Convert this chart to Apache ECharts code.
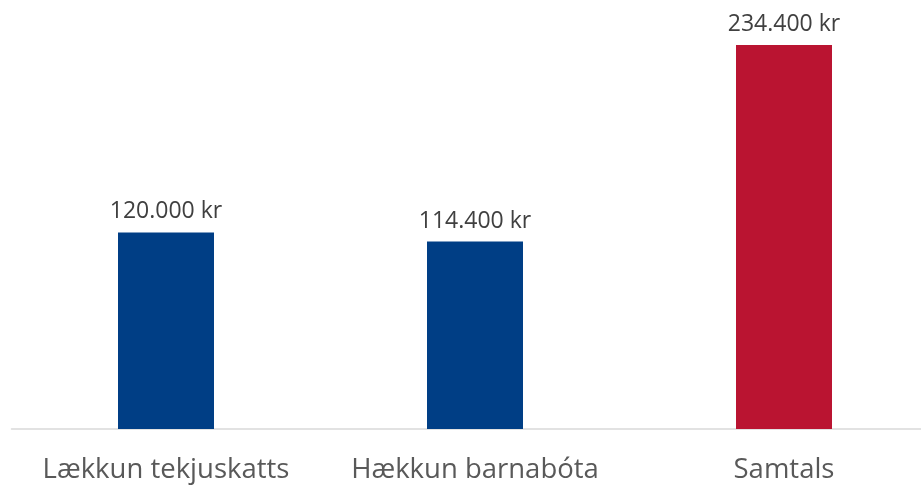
<!DOCTYPE html>
<html>
<head>
<meta charset="utf-8">
<script src="https://cdn.jsdelivr.net/npm/echarts@6/dist/echarts.min.js"></script>
<style>
  html, body { margin: 0; padding: 0; background: #fff; }
  #chart { width: 921px; height: 485px; }
</style>
</head>
<body>
<div id="chart"></div>
<script>
var categories = ['Lækkun tekjuskatts', 'Hækkun barnabóta', 'Samtals'];
var values = [120000, 114400, 234400];
var barColors = ['#003E85', '#003E85', '#BA1431'];

function kr(v) {
    return String(v).replace(/\B(?=(\d{3})+(?!\d))/g, '.') + ' kr';
}

var myChart = echarts.init(document.getElementById('chart'));

var option = {
    animation: false,
    grid: {
        left: 11.5, right: -17.5, top: 19.4, bottom: 56,
        containLabel: false,
        outerBoundsMode: 'none'
    },
    xAxis: {
        type: 'category',
        data: categories,
        axisLine: { lineStyle: { color: '#D9D9D9', width: 1.5 } },
        axisTick: { show: false },
        axisLabel: {
            color: '#595959',
            fontSize: 27.5,
            fontFamily: 'Open Sans',
            margin: 27,
            interval: 0
        }
    },
    yAxis: {
        type: 'value',
        min: 0,
        max: 250000,
        show: false,
        splitLine: { show: false }
    },
    series: [
        {
            type: 'bar',
            barWidth: 96,
            data: values.map(function (v, i) {
                return { value: v, itemStyle: { color: barColors[i] } };
            }),
            label: {
                show: true,
                position: 'top',
                distance: 9,
                color: '#404040',
                fontSize: 23,
                fontFamily: 'Open Sans',
                formatter: function (p) { return kr(p.value); }
            }
        }
    ]
};

myChart.setOption(option);
</script>
</body>
</html>
